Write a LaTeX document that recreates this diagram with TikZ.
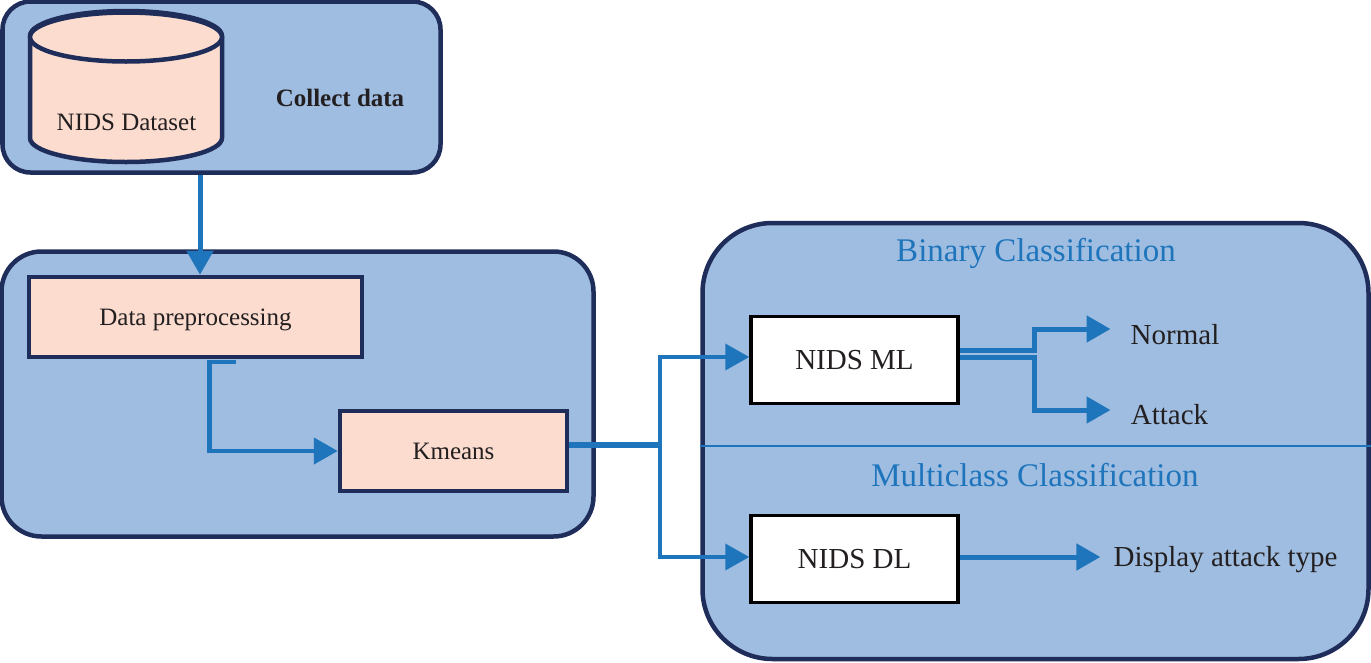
\documentclass[tikz,border=0pt]{standalone}
\usepackage{fontspec}
\setmainfont{Liberation Serif}
\usetikzlibrary{arrows.meta,calc}
\definecolor{panelblue}{HTML}{9FBDE0}
\definecolor{navy}{HTML}{1F2D5A}
\definecolor{peach}{HTML}{FBDCCF}
\definecolor{flowblue}{HTML}{1F75BC}
\definecolor{ink}{HTML}{231F20}
\tikzset{
  x=1pt,y=-1pt,
  panel/.style={draw=navy,fill=panelblue,line width=4.5pt,inner sep=0pt,rectangle},
  stage/.style={draw=navy,fill=peach,line width=4.5pt,inner sep=0pt,rectangle,text=ink},
  stagetext/.style={text=ink,inner sep=0pt,font=\fontsize{25}{28}\selectfont},
  model/.style={draw=black,fill=white,line width=3.5pt,inner sep=0pt,rectangle,text=ink,font=\fontsize{29}{32}\selectfont,minimum width=207pt,minimum height=87pt},
  label/.style={text=ink,inner sep=0pt,font=\fontsize{29}{32}\selectfont},
  heading/.style={text=flowblue,inner sep=0pt,font=\fontsize{33}{36}\selectfont},
  flow/.style={draw=flowblue,line width=5pt,-{Triangle[length=24pt,width=26pt]}},
  thinflow/.style={draw=flowblue,line width=4.5pt,-{Triangle[length=24pt,width=26pt]}},
  plainflow/.style={draw=flowblue,line width=6pt},
}
\begin{document}
\begin{tikzpicture}
\useasboundingbox (0,0) rectangle (1371,662);
\fill[white] (0,0) rectangle (1371,662);
% panels
\node[panel,rounded corners=28pt,minimum width=438pt,minimum height=171pt] (collect) at (221.5,87) {};
\node[panel,rounded corners=40pt,minimum width=592pt,minimum height=285pt] (prepanel) at (297.5,394) {};
\node[panel,rounded corners=70pt,minimum width=666pt,minimum height=436pt] (results) at (1035.5,441) {};
% cylinder
\draw[draw=navy,fill=peach,line width=4.5pt]
  (30,36) arc[start angle=180,end angle=360,x radius=96,y radius=25]
  -- (222,138) arc[start angle=0,end angle=180,x radius=96,y radius=24] -- cycle;
\draw[draw=navy,fill=peach,line width=4.5pt] (126,37) ellipse[x radius=96,y radius=24.5];
\node[stagetext] (dataset) at (126.5,122.5) {NIDS Dataset};
\node[text=ink,inner sep=0pt,font=\bfseries\fontsize{25}{28}\selectfont] (collectlabel) at (340,98) {Collect data};
% stage boxes
\node[stage,minimum width=333pt,minimum height=80pt] (prep) at (195.5,317) {};
\node[stagetext] (preptext) at (195.5,320) {Data preprocessing};
\node[stage,minimum width=227pt,minimum height=80pt] (kmeans) at (453.5,451) {};
\node[stagetext] (ktext) at (453.5,451.5) {Kmeans};
% models
\node[model] (ml) at (854.5,360) {NIDS ML};
\node[model] (dl) at (854.5,559) {NIDS DL};
% headings and labels
\node[heading] (binary) at (1036,253.5) {Binary Classification};
\node[heading] (multi) at (1035,475.5) {Multiclass Classification};
\node[label] (normal) at (1175,335) {Normal};
\node[label] (attack) at (1169.5,415) {Attack};
\node[label] (display) at (1225.5,560) {Display attack type};
% divider
\coordinate (divy) at (0,446);
\draw[flowblue,line width=2pt] (results.west |- divy) -- (results.east |- divy);
% connector helpers
\coordinate (intop) at ([xshift=4.5pt]prep.north);
\coordinate (prepout) at ([xshift=40pt,yshift=-2.5pt]prep.south);
\coordinate (prepturn) at ([xshift=14pt,yshift=-2.5pt]prep.south);
\coordinate (kout) at ([yshift=6pt]kmeans.east);
\coordinate (branch) at ($(kmeans.east)+(91,-6)$);
\coordinate (mlin) at ([yshift=3pt]ml.west);
\coordinate (dlin) at ([yshift=2pt]dl.west);
\coordinate (mlup) at ([yshift=10pt]ml.east);
\coordinate (mllow) at ([yshift=3pt]ml.east);
\coordinate (split) at ($(ml.east)+(75,0)$);
\coordinate (normalend) at ([xshift=-20pt,yshift=6pt]normal.west);
\coordinate (attackend) at ($(normal.west |- attack.west)+(-20,-5)$);
\coordinate (displayout) at ([yshift=3pt]dl.east |- display.west);
\coordinate (displayend) at ([xshift=-13pt,yshift=3pt]display.west);
% connectors
\draw[flow] (intop |- collect.south) -- (intop);
\draw[thinflow] (prepout) -- (prepturn) |- (kmeans.west);
\draw[plainflow] (kout) -- (branch);
\draw[thinflow,line width=4pt] (branch) |- (mlin);
\draw[thinflow,line width=4pt] (branch) |- (dlin);
\draw[flow] (mlup) -| (split |- normalend) -- (normalend);
\draw[flow] (mllow) -| (split |- attackend) -- (attackend);
\draw[flow] (displayout) -- (displayend);
\end{tikzpicture}
\end{document}
